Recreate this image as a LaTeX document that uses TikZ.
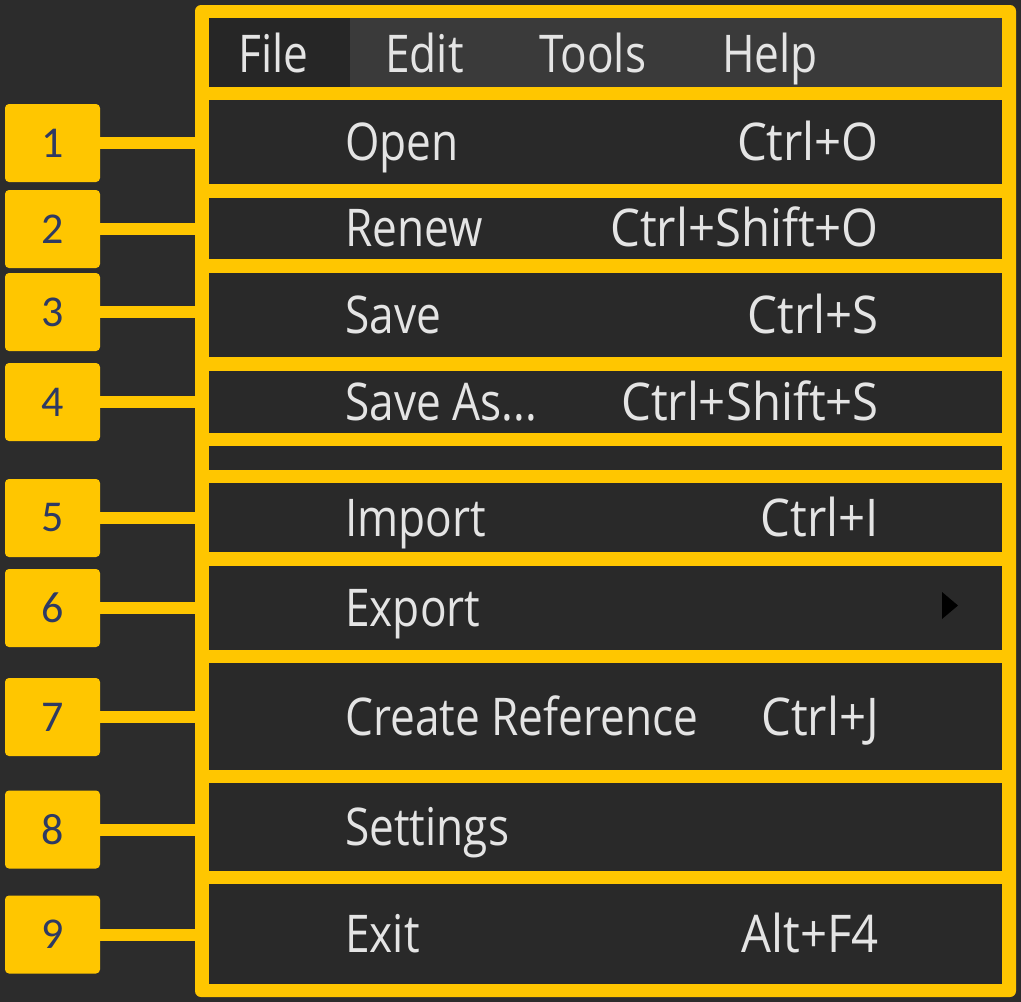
\documentclass[tikz,border=0pt]{standalone}
\usepackage{fontspec}
\newfontfamily\menufont{Open Sans}[FakeStretch=0.85]
\newfontfamily\keyfont{Open Sans}[FakeStretch=0.91]
\newfontfamily\numfont{Carlito}
\definecolor{bg}{HTML}{2C2C2C}
\definecolor{rowc}{HTML}{292929}
\definecolor{barc}{HTML}{3A3A3A}
\definecolor{filec}{HTML}{262626}
\definecolor{gold}{HTML}{FFC600}
\definecolor{navy}{HTML}{2E3A63}
\definecolor{txt}{HTML}{E4E4E4}
\tikzset{
  numbox/.style={fill=gold, rounded corners=4pt, minimum width=95pt, minimum height=78pt, inner sep=0pt, text=navy, font=\numfont\fontsize{44}{44}\selectfont},
  conn/.style={draw=gold, line width=12pt},
  rowbox/.style={fill=rowc},
  lbl/.style={anchor=base west, inner sep=0pt, text=txt, font=\menufont\fontsize{52}{52}\selectfont},
  key/.style={anchor=base east, inner sep=0pt, text=txt, font=\keyfont\fontsize{52}{52}\selectfont},
}
\begin{document}
\begin{tikzpicture}[x=1pt,y=-1pt]
\useasboundingbox (0,0) rectangle (1021,1002);
\fill[bg] (0,0) rectangle (1021,1002);
% outer frame
\fill[gold, rounded corners=6pt] (195,5) rectangle (1016,997);
% menu bar
\fill[barc] (209,18) rectangle (1002,87);
\fill[filec] (209,18) rectangle (350,87);
% rows
\fill[rowbox] (209,100) rectangle (1002,184);
\fill[rowbox] (209,198) rectangle (1002,259);
\fill[rowbox] (209,273) rectangle (1002,357);
\fill[rowbox] (209,371) rectangle (1002,433);
\fill[rowbox] (209,446) rectangle (1002,470);
\fill[rowbox] (209,483) rectangle (1002,552);
\fill[rowbox] (209,566) rectangle (1002,650);
\fill[rowbox] (209,663) rectangle (1002,770);
\fill[rowbox] (209,783) rectangle (1002,871);
\fill[rowbox] (209,884) rectangle (1002,984);
% menu bar labels
\node[lbl] (mfile) at (238,72) {File};
\node[lbl] (medit) at (385,72) {Edit};
\node[lbl] (mtools) at (539,72) {Tools};
\node[lbl] (mhelp) at (722,72) {Help};
% item labels
\node[lbl] (t1) at (345,160) {Open};
\node[key] (k1) at (879,160) {Ctrl+O};
\node[lbl] (t2) at (345,246.5) {Renew};
\node[key] (k2) at (879,246.5) {Ctrl+Shift+O};
\node[lbl] (t3) at (345,333.5) {Save};
\node[key] (k3) at (879,333.5) {Ctrl+S};
\node[lbl] (t4) at (345,420.5) {Save As...};
\node[key] (k4) at (879,420.5) {Ctrl+Shift+S};
\node[lbl] (t5) at (345,536) {Import};
\node[key] (k5) at (879,536) {Ctrl+I};
\node[lbl] (t6) at (345,626.5) {Export};
\fill[black] (942,592) -- (958,605.5) -- (942,619) -- cycle;
\node[lbl] (t7) at (345,735) {Create Reference};
\node[key] (k7) at (879,735) {Ctrl+J};
\node[lbl] (t8) at (345,845.5) {Settings};
\node[lbl] (t9) at (345,952.5) {Exit};
\node[key] (k9) at (879,952.5) {Alt+F4};
% number boxes
\coordinate (fl) at (200,0);
\foreach \n/\y in {1/143,2/229,3/312,4/402,5/518,6/608,7/717,8/829.5,9/934.5}{
  \node[numbox] (n\n) at (52.5,\y) {\n};
  \draw[conn] (n\n.east) -- (n\n.east -| fl);
}
\end{tikzpicture}
\end{document}
